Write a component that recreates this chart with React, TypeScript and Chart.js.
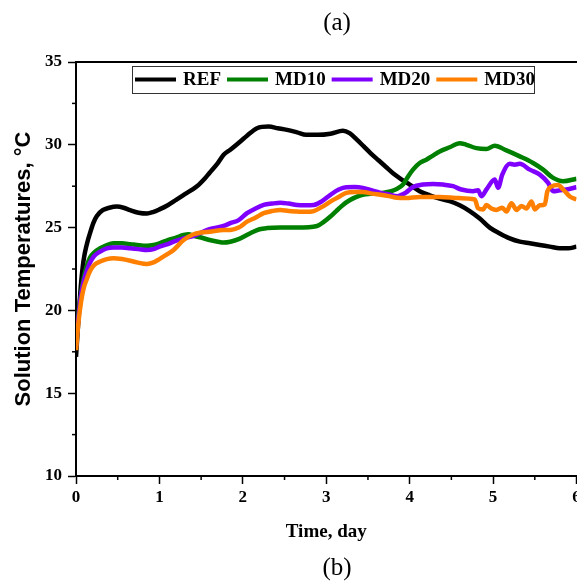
import React, { useEffect, useRef } from 'react';
import { Chart, registerables } from 'chart.js';

Chart.register(...registerables);

// ---------- data ----------
const seriesLabels = ['REF', 'MD10', 'MD20', 'MD30'];
const seriesColors = ['#000000', '#008000', '#8000ff', '#ff8000'];

const refDays = [0, 0.03, 0.06, 0.09, 0.13, 0.17, 0.21, 0.25, 0.32, 0.4, 0.49, 0.57, 0.65, 0.75, 0.85, 0.93, 1.0, 1.1, 1.2, 1.3, 1.45, 1.55, 1.6, 1.7, 1.77, 1.85, 1.97, 2.05, 2.17, 2.31, 2.42, 2.53, 2.65, 2.76, 2.9, 3.05, 3.2, 3.28, 3.37, 3.45, 3.53, 3.63, 3.73, 3.82, 3.92, 4.0, 4.12, 4.24, 4.36, 4.48, 4.6, 4.72, 4.84, 4.96, 5.08, 5.2, 5.32, 5.44, 5.56, 5.68, 5.8, 5.9, 6.0];
const refTemps = [17.2, 19.5, 21.6, 23.0, 24.0, 24.7, 25.3, 25.7, 26.05, 26.2, 26.27, 26.2, 26.05, 25.9, 25.85, 25.95, 26.1, 26.35, 26.67, 27.0, 27.5, 28.0, 28.3, 28.9, 29.4, 29.7, 30.2, 30.55, 31.0, 31.1, 31.0, 30.9, 30.75, 30.6, 30.6, 30.67, 30.85, 30.7, 30.3, 29.9, 29.5, 29.05, 28.6, 28.2, 27.85, 27.6, 27.2, 26.95, 26.75, 26.6, 26.35, 26.0, 25.55, 25.0, 24.65, 24.35, 24.15, 24.05, 23.95, 23.85, 23.75, 23.75, 23.85];

const md10Days = [0, 0.03, 0.06, 0.09, 0.13, 0.17, 0.22, 0.29, 0.37, 0.45, 0.55, 0.65, 0.73, 0.85, 0.93, 1.0, 1.1, 1.2, 1.29, 1.35, 1.41, 1.5, 1.6, 1.7, 1.77, 1.85, 1.95, 2.09, 2.2, 2.29, 2.45, 2.65, 2.89, 2.97, 3.05, 3.12, 3.2, 3.28, 3.37, 3.45, 3.53, 3.69, 3.85, 3.92, 3.97, 4.04, 4.12, 4.2, 4.28, 4.36, 4.48, 4.6, 4.68, 4.8, 4.92, 5.02, 5.16, 5.32, 5.48, 5.6, 5.72, 5.84, 6.0];
const md10Temps = [17.8, 19.8, 21.0, 21.9, 22.7, 23.2, 23.5, 23.75, 23.95, 24.05, 24.05, 24.0, 23.95, 23.9, 23.95, 24.05, 24.25, 24.4, 24.55, 24.6, 24.5, 24.4, 24.25, 24.15, 24.1, 24.15, 24.3, 24.66, 24.9, 24.97, 25.0, 25.0, 25.1, 25.35, 25.67, 26.0, 26.37, 26.65, 26.87, 27.0, 27.04, 27.1, 27.35, 27.6, 28.0, 28.5, 28.9, 29.1, 29.35, 29.6, 29.85, 30.1, 30.0, 29.8, 29.75, 29.94, 29.66, 29.3, 28.9, 28.5, 28.0, 27.8, 27.95];

const md20Days = [0, 0.03, 0.06, 0.09, 0.13, 0.17, 0.22, 0.29, 0.37, 0.45, 0.55, 0.65, 0.75, 0.85, 0.93, 1.0, 1.1, 1.17, 1.29, 1.41, 1.5, 1.6, 1.77, 1.85, 1.95, 2.05, 2.15, 2.25, 2.35, 2.45, 2.55, 2.65, 2.75, 2.85, 2.95, 3.05, 3.15, 3.24, 3.34, 3.44, 3.55, 3.65, 3.75, 3.85, 3.95, 4.04, 4.16, 4.28, 4.4, 4.52, 4.62, 4.76, 4.82, 4.86, 4.92, 5.02, 5.06, 5.11, 5.2, 5.26, 5.32, 5.44, 5.56, 5.66, 5.72, 5.8, 5.88, 6.0];
const md20Temps = [17.8, 19.6, 20.9, 21.7, 22.4, 22.9, 23.3, 23.55, 23.75, 23.8, 23.8, 23.75, 23.7, 23.65, 23.7, 23.85, 24.0, 24.15, 24.35, 24.5, 24.7, 24.9, 25.1, 25.27, 25.45, 25.87, 26.15, 26.37, 26.45, 26.5, 26.45, 26.37, 26.35, 26.37, 26.6, 26.98, 27.3, 27.44, 27.45, 27.4, 27.25, 27.1, 27.0, 26.9, 27.1, 27.45, 27.6, 27.64, 27.6, 27.5, 27.3, 27.2, 27.25, 26.9, 27.3, 27.9, 27.4, 28.2, 28.85, 28.8, 28.85, 28.5, 28.2, 27.7, 27.2, 27.25, 27.3, 27.44];

const md30Days = [0, 0.03, 0.06, 0.09, 0.13, 0.17, 0.22, 0.29, 0.37, 0.45, 0.55, 0.65, 0.73, 0.85, 0.93, 1.0, 1.08, 1.17, 1.29, 1.41, 1.5, 1.6, 1.77, 1.85, 1.95, 2.05, 2.15, 2.25, 2.35, 2.45, 2.55, 2.65, 2.75, 2.85, 2.95, 3.05, 3.15, 3.24, 3.34, 3.44, 3.55, 3.65, 3.75, 3.85, 3.95, 4.12, 4.36, 4.6, 4.78, 4.82, 4.88, 4.92, 4.98, 5.04, 5.11, 5.16, 5.22, 5.28, 5.34, 5.4, 5.46, 5.5, 5.56, 5.62, 5.65, 5.7, 5.78, 5.84, 5.92, 6.0];
const md30Temps = [17.6, 19.3, 20.5, 21.3, 21.9, 22.4, 22.75, 22.95, 23.1, 23.15, 23.1, 23.0, 22.9, 22.8, 22.9, 23.1, 23.35, 23.65, 24.25, 24.6, 24.7, 24.75, 24.85, 24.86, 25.0, 25.36, 25.6, 25.87, 26.0, 26.07, 26.0, 25.97, 25.95, 26.0, 26.25, 26.57, 26.85, 27.1, 27.15, 27.15, 27.05, 26.98, 26.9, 26.8, 26.78, 26.85, 26.85, 26.78, 26.7, 26.17, 26.1, 26.37, 26.15, 26.07, 26.2, 25.97, 26.47, 26.07, 26.3, 26.15, 26.57, 26.1, 26.35, 26.4, 27.18, 27.48, 27.58, 27.3, 26.88, 26.7];

const xTickLabels = ['0', '1', '2', '3', '4', '5', '6'];
const yTickLabels = ['10', '15', '20', '25', '30', '35'];

const topCaption = '(a)';
const bottomCaption = '(b)';
const xTitle = 'Time, day';
const yTitle = 'Solution Temperatures, \u00B0C';

const seriesDays = [refDays, md10Days, md20Days, md30Days];
const seriesTemps = [refTemps, md10Temps, md20Temps, md30Temps];

const CANVAS_W = 620;
const CANVAS_H = 585;

const decorPlugin = {
  id: 'decor',
  afterDraw(chart: any) {
    const { ctx, chartArea, scales } = chart;
    const { left, top, bottom } = chartArea;
    ctx.save();
    // top frame line
    ctx.strokeStyle = '#000';
    ctx.lineWidth = 2;
    ctx.beginPath();
    ctx.moveTo(left - 1, top);
    ctx.lineTo(CANVAS_W, top);
    ctx.stroke();

    // minor ticks
    ctx.lineWidth = 1.5;
    const xs = scales.x;
    for (let v = 0.5; v < 6; v += 1) {
      const px = xs.getPixelForValue(v);
      ctx.beginPath();
      ctx.moveTo(px, bottom);
      ctx.lineTo(px, bottom + 4);
      ctx.stroke();
    }
    const ys = scales.y;
    for (let v = 12.5; v < 35; v += 5) {
      const py = ys.getPixelForValue(v);
      ctx.beginPath();
      ctx.moveTo(left, py);
      ctx.lineTo(left - 4, py);
      ctx.stroke();
    }

    // legend
    const boxL = left + 56;
    const boxT = top + 4;
    const boxR = left + 458;
    const boxB = top + 31;
    ctx.fillStyle = '#fff';
    ctx.fillRect(boxL, boxT, boxR - boxL, boxB - boxT);
    ctx.strokeStyle = '#333';
    ctx.lineWidth = 1;
    ctx.strokeRect(boxL + 0.5, boxT + 0.5, boxR - boxL, boxB - boxT);
    ctx.font = 'bold 19px "Liberation Serif"';
    ctx.textBaseline = 'middle';
    ctx.textAlign = 'left';
    let x = boxL + 3;
    const cy = (boxT + boxB) / 2;
    seriesLabels.forEach((lab, i) => {
      ctx.strokeStyle = seriesColors[i];
      ctx.lineWidth = 4;
      ctx.beginPath();
      ctx.moveTo(x, cy);
      ctx.lineTo(x + 41, cy);
      ctx.stroke();
      x += 48;
      ctx.fillStyle = '#000';
      ctx.fillText(lab, x, cy + 1);
      x += ctx.measureText(lab).width + 6;
    });

    // captions
    ctx.fillStyle = '#000';
    ctx.textAlign = 'center';
    ctx.textBaseline = 'middle';
    ctx.font = '25px "Liberation Serif"';
    ctx.fillText(topCaption, 337, 23);
    ctx.fillText(bottomCaption, 337, 568);
    ctx.restore();
  },
};

export default function App() {
  const canvasRef = useRef<HTMLCanvasElement | null>(null);

  useEffect(() => {
    const canvas = canvasRef.current;
    if (!canvas) return;
    const datasets = seriesLabels.map((label, i) => ({
      label,
      data: seriesDays[i].map((d, j) => ({ x: d, y: seriesTemps[i][j] })),
      borderColor: seriesColors[i],
      backgroundColor: seriesColors[i],
      borderWidth: 4.5,
      pointRadius: 0,
      fill: false,
      cubicInterpolationMode: 'monotone' as const,
      order: seriesLabels.length - i,
    }));

    const chart = new Chart(canvas, {
      type: 'line',
      data: { datasets },
      plugins: [decorPlugin],
      options: {
        animation: false,
        responsive: false,
        maintainAspectRatio: false,
        layout: { padding: { top: 62, right: CANVAS_W - 576.5, bottom: 0, left: 0 } },
        plugins: {
          legend: { display: false },
          tooltip: { enabled: false },
          title: { display: false },
        },
        scales: {
          x: {
            type: 'linear',
            min: 0,
            max: 6,
            afterFit: (s: any) => { s.height = 109; },
            border: { display: true, color: '#000', width: 2 },
            grid: {
              drawOnChartArea: false,
              drawTicks: true,
              tickLength: 8,
              tickWidth: 1.5,
              tickColor: '#000',
            },
            ticks: {
              stepSize: 1,
              autoSkip: false,
              maxRotation: 0,
              padding: 3,
              color: '#000',
              font: { family: '"Liberation Serif"', size: 17, weight: 'bold' },
              callback: (v: any) => xTickLabels[Math.round(Number(v))] ?? '',
            },
            title: {
              display: true,
              text: xTitle,
              color: '#000',
              font: { family: '"Liberation Serif"', size: 19, weight: 'bold' },
              padding: { top: 0, bottom: 42 },
            },
          },
          y: {
            type: 'linear',
            min: 10,
            max: 35,
            afterFit: (s: any) => { s.width = 76; },
            border: { display: true, color: '#000', width: 2 },
            grid: {
              drawOnChartArea: false,
              drawTicks: true,
              tickLength: 8,
              tickWidth: 1.5,
              tickColor: '#000',
            },
            ticks: {
              stepSize: 5,
              autoSkip: false,
              padding: 6,
              color: '#000',
              font: { family: '"Liberation Serif"', size: 17, weight: 'bold' },
              callback: (v: any) => yTickLabels[Math.round((Number(v) - 10) / 5)] ?? '',
            },
            title: {
              display: true,
              text: yTitle,
              color: '#000',
              font: { family: '"Liberation Sans"', size: 22, weight: 'bold' },
              padding: { top: 11, bottom: 0 },
            },
          },
        },
      },
    });
    return () => chart.destroy();
  }, []);

  return (
    <div style={{ position: 'fixed', left: 0, top: 0, width: 577, height: 585, overflow: 'hidden', background: '#fff' }}>
      <canvas ref={canvasRef} width={CANVAS_W} height={CANVAS_H} style={{ width: CANVAS_W, height: CANVAS_H, display: 'block' }} />
    </div>
  );
}
